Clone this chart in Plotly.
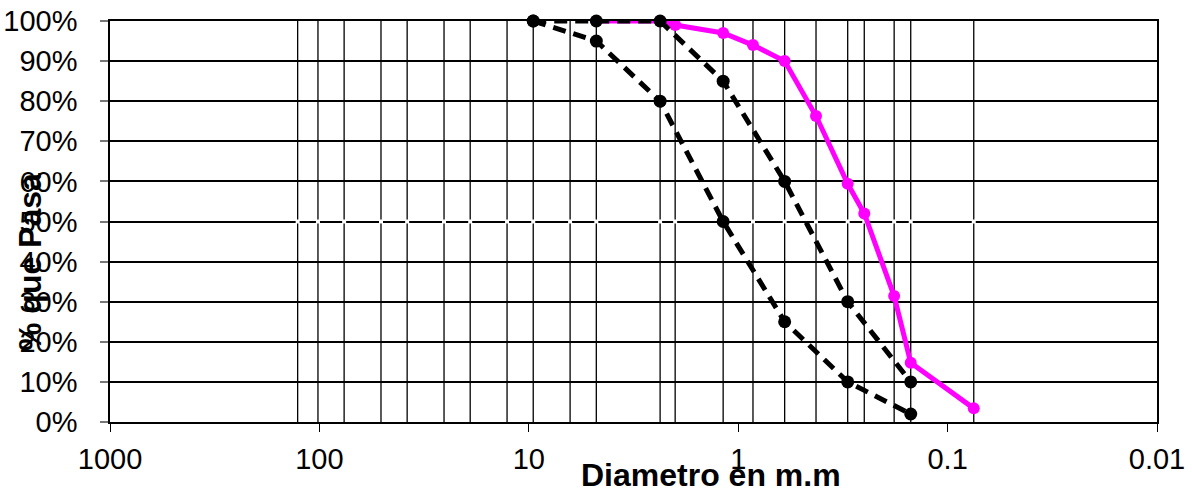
import plotly.graph_objects as go

# Sieve openings (mm) used as vertical reference lines
sieves = [127.0, 101.6, 76.2, 50.8, 38.1, 25.4, 19.05, 12.7, 9.525, 6.35, 4.76,
          2.36, 2.00, 1.18, 0.85, 0.60, 0.425, 0.30, 0.25, 0.18, 0.15, 0.075]

# Sample gradation (magenta)
sample_d = [4.76, 2.36, 2.00, 1.18, 0.85, 0.60, 0.425, 0.30, 0.25, 0.18, 0.15, 0.075]
sample_p = [1.00, 1.00, 0.99, 0.97, 0.94, 0.90, 0.763, 0.594, 0.52, 0.314, 0.148, 0.034]

# Lower spec limit (dashed)
lower_d = [9.525, 4.76, 2.36, 1.18, 0.60, 0.30, 0.15]
lower_p = [1.00, 0.95, 0.80, 0.50, 0.25, 0.10, 0.02]

# Upper spec limit (dashed)
upper_d = [9.525, 4.76, 2.36, 1.18, 0.60, 0.30, 0.15]
upper_p = [1.00, 1.00, 1.00, 0.85, 0.60, 0.30, 0.10]

xtick_vals = [1000, 100, 10, 1, 0.1, 0.01]
xtick_text = ["1000", "100", "10", "1", "0.1", "0.01"]

FONT = "Liberation Sans, Arial, sans-serif"

fig = go.Figure()

# vertical sieve lines
vx, vy = [], []
for s in sieves:
    vx += [s, s, None]
    vy += [0, 1, None]
fig.add_trace(go.Scatter(x=vx, y=vy, mode="lines", line=dict(color="black", width=1.3),
                         hoverinfo="skip", showlegend=False))
# white gaps at 50% line
fig.add_trace(go.Scatter(x=sieves, y=[0.5] * len(sieves), mode="markers",
                         marker=dict(color="white", size=4, symbol="square"),
                         hoverinfo="skip", showlegend=False))

fig.add_trace(go.Scatter(x=sample_d, y=sample_p, mode="lines+markers",
                         line=dict(color="#FF00FF", width=5),
                         marker=dict(color="#FF00FF", size=12),
                         cliponaxis=False, showlegend=False))
for d, p in [(lower_d, lower_p), (upper_d, upper_p)]:
    fig.add_trace(go.Scatter(x=d, y=p, mode="lines+markers",
                             line=dict(color="black", width=5, dash="13px,8px"),
                             marker=dict(color="black", size=13),
                             cliponaxis=False, showlegend=False))

fig.update_layout(
    width=1192, height=493,
    margin=dict(l=110, r=35, t=21, b=71),
    paper_bgcolor="white", plot_bgcolor="white",
    font=dict(family=FONT, size=29, color="black"),
    xaxis=dict(type="log", range=[3, -2], tickvals=xtick_vals, ticktext=xtick_text,
               showgrid=False, ticks="outside", ticklen=8, tickcolor="black", tickwidth=1,
               showline=True, linecolor="black", linewidth=1.5, mirror=True,
               zeroline=False, ticklabelstandoff=2, automargin=False),
    yaxis=dict(range=[0, 1], dtick=0.1, tick0=0, tickformat=".0%",
               showgrid=True, gridcolor="black", gridwidth=1.5,
               ticks="outside", ticklen=8, tickcolor="#777", tickwidth=1.5,
               showline=True, linecolor="black", linewidth=1.5, mirror=True,
               zeroline=False, ticklabelstandoff=17, automargin=False),
    annotations=[
        dict(text="<b>Diametro en m.m</b>", x=0.574, y=-0.132, xref="paper", yref="paper",
             showarrow=False, font=dict(family=FONT, size=32, color="black"),
             xanchor="center", yanchor="middle"),
        dict(text="<b>% que Pasa</b>", x=-0.0764, y=0.399, xref="paper", yref="paper",
             showarrow=False, textangle=-90, font=dict(family=FONT, size=32, color="black"),
             xanchor="center", yanchor="middle"),
    ],
)

fig.write_html("out.html", config={"displayModeBar": False},
               post_script="document.body.style.margin='0';document.body.style.overflow='hidden';")
